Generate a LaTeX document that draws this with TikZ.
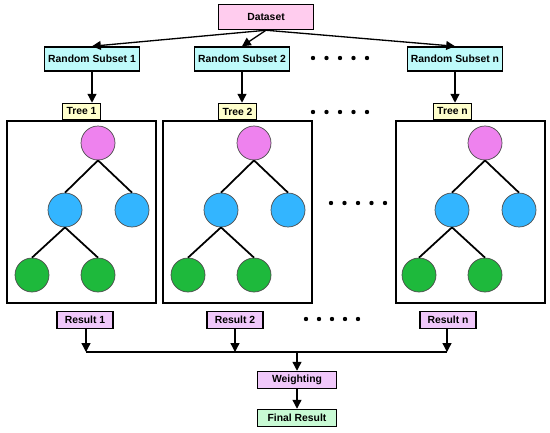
\documentclass[tikz,border=0pt]{standalone}
\usepackage{fontspec}
\setmainfont{Liberation Sans}
\usetikzlibrary{arrows.meta,positioning}

\definecolor{dsfill}{RGB}{255,204,238}
\definecolor{subfill}{RGB}{190,250,250}
\definecolor{treefill}{RGB}{255,255,204}
\definecolor{resfill}{RGB}{240,200,250}
\definecolor{finfill}{RGB}{200,250,212}
\definecolor{rootc}{RGB}{238,130,238}
\definecolor{midc}{RGB}{51,181,255}
\definecolor{leafc}{RGB}{30,185,60}

\begin{document}
\begin{tikzpicture}[
  x=0.02cm, y=-0.02cm,
  box/.style={draw,line width=0.85pt,inner sep=0pt,
    font=\fontsize{5.9}{7}\selectfont\bfseries},
  dset/.style={box,fill=dsfill,minimum width=1.9cm,minimum height=0.5cm},
  subset/.style={box,fill=subfill,minimum width=1.9cm,minimum height=0.48cm},
  treelab/.style={box,fill=treefill,minimum width=0.76cm,minimum height=0.32cm},
  result/.style={box,fill=resfill,minimum width=1.12cm,minimum height=0.34cm},
  frame/.style={draw,line width=0.9pt,minimum width=2.98cm,minimum height=3.64cm},
  rootn/.style={circle,draw=black!70,fill=rootc,minimum size=0.68cm},
  midn/.style={circle,draw=black!70,fill=midc,minimum size=0.68cm},
  leafn/.style={circle,draw=black!70,fill=leafc,minimum size=0.68cm},
  edge/.style={line width=1pt},
  arr/.style={-{Triangle[length=5pt,width=5pt]},line width=0.75pt},
  dot/.style={circle,fill=black,inner sep=0pt,minimum size=2.5pt}
]
  \useasboundingbox (0,0) rectangle (550,432);

  % Dataset and random subsets
  \node[dset] (ds) at (266,17) {Dataset};
  \node[subset] (rs1) at (92,59) {Random Subset 1};
  \node[subset] (rs2) at (242,59) {Random Subset 2};
  \node[subset] (rsn) at (455,59) {Random Subset n};

  \draw[arr] (ds.south) -- (rs1.north);
  \draw[arr] (ds.south) -- (rs2.north);
  \draw[arr] (ds.south) -- (rsn.north);

  % Tree frames and labels
  \node[frame] (f1) at (81.5,212) {};
  \node[frame] (f2) at (237.5,212) {};
  \node[frame] (fn) at (470.5,212) {};
  \node[treelab,above=0pt of f1] (tl1) {Tree 1};
  \node[treelab,above=0pt of f2] (tl2) {Tree 2};
  \node[treelab,above=0pt of fn,xshift=-0.36cm] (tln) {Tree n};

  \draw[arr] (rs1) -- (rs1 |- tl1.north);
  \draw[arr] (rs2) -- (rs2 |- tl2.north);
  \draw[arr] (rsn) -- (rsn |- tln.north);

  % Tree 1
  \node[rootn] (r1) at (98,143) {};
  \node[midn] (a1) at (65,210) {};
  \node[midn] (b1) at (132,210) {};
  \node[leafn] (c1) at (32,275) {};
  \node[leafn] (d1) at (98,275) {};
  \draw[edge] (r1.south) -- (a1.north);
  \draw[edge] (r1.south) -- (b1.north);
  \draw[edge] (a1.south) -- (c1.north);
  \draw[edge] (a1.south) -- (d1.north);

  % Tree 2
  \node[rootn] (r2) at (254,143) {};
  \node[midn] (a2) at (221,210) {};
  \node[midn] (b2) at (288,210) {};
  \node[leafn] (c2) at (188,275) {};
  \node[leafn] (d2) at (254,275) {};
  \draw[edge] (r2.south) -- (a2.north);
  \draw[edge] (r2.south) -- (b2.north);
  \draw[edge] (a2.south) -- (c2.north);
  \draw[edge] (a2.south) -- (d2.north);

  % Tree n
  \node[rootn] (rn) at (485,143) {};
  \node[midn] (an) at (452,210) {};
  \node[midn] (bn) at (519,210) {};
  \node[leafn] (cn) at (419,275) {};
  \node[leafn] (dn) at (485,275) {};
  \draw[edge] (rn.south) -- (an.north);
  \draw[edge] (rn.south) -- (bn.north);
  \draw[edge] (an.south) -- (cn.north);
  \draw[edge] (an.south) -- (dn.north);

  % Results
  \node[result] (res1) at (85,320) {Result 1};
  \node[result] (res2) at (235,320) {Result 2};
  \node[result] (resn) at (448,320) {Result n};
  \node[result,minimum width=1.58cm] (wt) at (297,380) {Weighting};
  \node[result,fill=finfill,minimum width=1.58cm] (fin) at (297,418) {Final Result};

  \coordinate (j1) at (86,352);
  \coordinate (jn) at (447,352);
  \coordinate (jw) at (297,352);

  \draw[arr] (res1.south -| j1) -- (j1);
  \draw[arr] (res2.south) -- (res2.south |- j1);
  \draw[arr] (resn.south -| jn) -- (jn);
  \draw[line width=0.75pt] (j1) -- (jn);
  \draw[arr] (jw) -- (wt.north);
  \draw[arr] (wt) -- (fin);

  % Dots
  \foreach \i in {0,...,4} {
    \node[dot] (da\i) at (313+13.5*\i,58) {};
    \node[dot] (db\i) at (313+13.5*\i,112) {};
    \node[dot] (dc\i) at (331+13.5*\i,203) {};
    \node[dot] (dd\i) at (306+13*\i,319) {};
  }
\end{tikzpicture}
\end{document}
